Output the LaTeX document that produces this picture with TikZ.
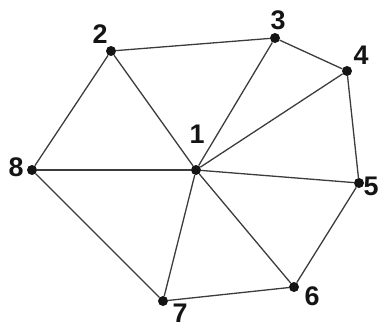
\documentclass[tikz,border=0pt]{standalone}
\usepackage{fontspec}
\setmainfont{Liberation Sans}
\definecolor{edgec}{HTML}{3C3C3C}
\definecolor{dotc}{HTML}{141414}
\tikzset{
  vert/.style={circle,fill=dotc,inner sep=0pt,minimum size=10bp},
  vlab/.style={font=\fontsize{27}{27}\selectfont\bfseries,text=dotc,inner sep=0pt},
  spoke/.style={draw=edgec,line width=1.3bp}
}

\begin{document}
\begin{tikzpicture}[x=1bp,y=-1bp]
    \useasboundingbox (0,0) rectangle (380,327);
    \foreach \i/\x/\y/\lx/\ly in {%
      1/196/170/197/134, 2/111/51/100/34, 3/275/38/278/20, 4/347/71/361/55,
      5/359/183/371/186, 6/294/287/312/296, 7/163/301/180/313, 8/32/170/16/167}{
      \node[vert] (v\i) at (\x,\y){};
      \node[vlab] (t\i) at (\lx,\ly){\i};}
    % hub to rim
    \foreach \i in {2,...,8}
      \draw[spoke] (v1) -- (v\i);
    % rim
    \foreach \a/\b in {2/3, 3/4, 4/5, 5/6, 6/7, 7/8, 8/2}
      \draw[spoke] (v\a) -- (v\b);
  \end{tikzpicture}
\end{document}
